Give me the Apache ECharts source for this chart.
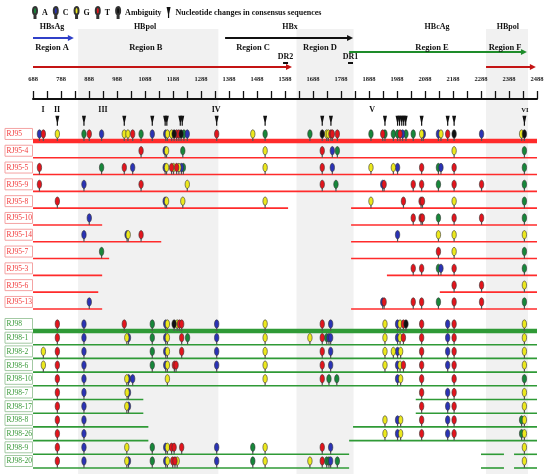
<!DOCTYPE html>
<html>
<head>
<meta charset="utf-8">
<script src="https://cdn.jsdelivr.net/npm/echarts@6/dist/echarts.min.js"></script>
<style>
  html, body { margin: 0; padding: 0; background: #fff; }
  #chart { width: 550px; height: 474px; }
</style>
</head>
<body>
<div id="chart"></div>
<script>
// genome positions (nt)
const axisStart = 688;
const axisEnd = 2488;

const genes = ['HBsAg', 'HBpol', 'HBx', 'HBcAg', 'HBpol'];
const geneLabelAt = [756, 1088, 1606, 2131, 2384];
const geneSpans = [[688, 834], [688, 1613], [1374, 1831], [1817, 2452], [2306, 2484]];

const regions = ['Region A', 'Region B', 'Region C', 'Region D', 'Region E', 'Region F'];
const regionLabelAt = [756, 1091, 1474, 1713, 2113, 2374];
const shadedSpans = [[849, 1350], [1629, 1833], [2306, 2456]];

const repeats = ['DR2', 'DR1'];
const repeatAt = [1590, 1822];

const numerals = ['I', 'II', 'III', 'IV', 'V', 'VI'];
const numeralAt = [724, 774, 938, 1342, 1899, 2445];
const consensusChanges = [775, 870, 1014, 1114, 1160, 1166, 1214, 1221, 1344, 1517,
  1721, 1752, 1945, 1990, 1997, 2005, 2012, 2019, 2076, 2169, 2192, 2443];

const rj95Rows = ['RJ95', 'RJ95-4', 'RJ95-5', 'RJ95-9', 'RJ95-8', 'RJ95-10', 'RJ95-14', 'RJ95-7', 'RJ95-3', 'RJ95-6', 'RJ95-13'];
const rj95Coverage = [
  [[688, 2488]], [[688, 2488]], [[688, 2488]], [[688, 2488]],
  [[688, 1599], [1824, 2488]],
  [[688, 935], [1824, 2488]],
  [[688, 1146], [1824, 2488]],
  [[688, 960], [1824, 2488]],
  [[688, 935], [1952, 2488]],
  [[688, 921], [2141, 2488]],
  [[688, 935], [1824, 2488]]
];
// position + base (A, C, G, T, N = ambiguity)
const rj95Changes = [
  '711C 725T 775G 870A 889T 933C 1014G 1027G 1044T 1074A 1114C 1162C 1168G 1183G 1192N 1201T 1209T 1217N 1227A 1239C 1344T 1473G 1517A 1677A 1721N 1737G 1743G 1752T 1757T 1775T 1895A 1937T 1945A 1975A 1990A 1999T 2008C 2020A 2046A 2076G 2082C 2136C 2145G 2169T 2192N 2290C 2433G 2443N',
  '1074T 1160C 1165G 1223A 1517G 1721T 1757C 1775A 2192G 2443A',
  '711T 933A 1014T 1044C 1160C 1165G 1183T 1190G 1201T 1209G 1218C 1225A 1517G 1721T 1757C 1895G 1975G 1990C 2076T 2136A 2145C 2192T 2443A',
  '711T 870C 1074T 1239G 1721T 1770A 1937C 1942T 2046T 2076T 2136A 2192T 2290T 2443A',
  '775T 1160C 1165G 1223G 1517G 1895G 2011T 2074T 2079T 2192G 2443A',
  '889C 2046T 2074T 2079T 2136A 2192T 2290T 2443A',
  '870C 1024C 1028G 1074T 1990C 2136G 2192G 2443G',
  '933A 2136T 2192G 2443A',
  '2046T 2076T 2136A 2145C 2192T 2443A',
  '2192T 2290T 2443G',
  '889C 1937C 1942T 2046T 2076T 2136A 2192T 2290T 2443A'
];

const rj98Rows = ['RJ98', 'RJ98-1', 'RJ98-2', 'RJ98-6', 'RJ98-10', 'RJ98-7', 'RJ98-17', 'RJ98-8', 'RJ98-26', 'RJ98-9', 'RJ98-20'];
const rj98Coverage = [
  [[688, 2488]], [[688, 2488]], [[688, 2488]], [[688, 2488]], [[688, 2488]],
  [[688, 1082], [2055, 2488]],
  [[688, 1082], [2055, 2488]],
  [[688, 1100], [1831, 2488]],
  [[688, 1100], [1817, 2488]],
  [[688, 1817], [2288, 2370], [2406, 2488]],
  [[688, 1817], [2288, 2370], [2406, 2488]]
];
const rj98Changes = [
  '775T 870C 1014T 1114A 1162C 1168G 1192N 1203G 1211T 1219T 1344C 1517G 1721T 1751C 1945G 1990C 1999G 2011T 2020N 2076T 2169C 2192T 2443G',
  '775T 870C 1023G 1029C 1114A 1162C 1168G 1219T 1240A 1344C 1517G 1677G 1721T 1737A 1745C 1751C 1945G 1990C 1999G 2011T 2076T 2169C 2192T 2443G',
  '725G 775T 870C 1114A 1162C 1168G 1219T 1344C 1517G 1721T 1751C 1945G 1975G 1990C 2001G 2076T 2169C 2192T 2443G',
  '725G 775T 870C 1114A 1162C 1168G 1193T 1199T 1344C 1517G 1721T 1751C 1945G 1990C 1999G 2011T 2076T 2169C 2192T 2443G',
  '775T 870C 1023G 1029C 1044C 1168G 1517G 1721T 1745A 1773A 1990C 2001G 2076T 2192T 2443A',
  '775T 870C 1024G 1029C 2076T 2169C 2192T 2443G',
  '775T 870C 1023G 1029C 2076T 2169C 2192T 2443G',
  '775T 870C 1945G 1990C 2001G 2076T 2169C 2192T 2433A 2443G',
  '775T 870C 1945G 1990C 2001G 2076T 2169C 2192T 2433A 2443G',
  '775T 870C 1023G 1114A 1162C 1168G 1183T 1192T 1219T 1344C 1473A 1517G 1721T 1751C 2443G',
  '775T 870C 1023G 1029C 1114A 1162C 1168G 1187T 1195T 1203G 1344C 1473A 1517G 1677G 1721T 1737A 1745A 1751C 1775A 2443G'
];

const bases = ['A', 'C', 'G', 'T', 'N'];
const baseName = { A: 'A', C: 'C', G: 'G', T: 'T', N: 'Ambiguity' };
const baseColor = { A: '#17873a', C: '#2b33b5', G: '#ece81e', T: '#e3151d', N: '#111111' };
const consensusName = 'Nucleotide changes in consensus sequences';

const SERIF = '"Liberation Serif", "DejaVu Serif", serif';
// header tracks (header grid y units)
const TRACK = { gene: 7, bandTop: 9, topArrow: 18, region: 28, midArrow: 32, repeat: 37, repeatBar: 43, lowArrow: 47 };
const geneArrowStyle = [
  { track: TRACK.topArrow, color: '#3040c8' },
  { track: TRACK.lowArrow, color: '#c41414' },
  { track: TRACK.topArrow, color: '#111111' },
  { track: TRACK.midArrow, color: '#1e8c2a' },
  { track: TRACK.lowArrow, color: '#c41414' }
];

function parseRow(s) {
  return s.trim().split(/\s+/).filter(Boolean).map(t => [+t.slice(0, -1), t.slice(-1)]);
}

const pinIcon = 'path://M2,0 C3.2,0 4,1.6 4,3.8 C4,6 3.2,7.6 2,7.6 C0.8,7.6 0,6 0,3.8 C0,1.6 0.8,0 2,0 Z M1.5,7.6 L2.5,7.6 L2.5,11 L1.5,11 Z';
const wedgeIcon = 'path://M0,0 L4,0 L2.6,7 L2.6,11 L1.4,11 L1.4,7 Z';

function textEl(x, y, text, font, fill, align) {
  return { type: 'text', x: x, y: y, style: { text: text, font: font, fill: fill || '#111', align: align || 'center', verticalAlign: 'middle' } };
}

function bandSeries(g) {
  return {
    type: 'custom', xAxisIndex: g, yAxisIndex: g, silent: true, z: 0,
    data: shadedSpans,
    renderItem: (params, api) => {
      const cs = params.coordSys;
      const x0 = api.coord([api.value(0), 0])[0];
      const x1 = api.coord([api.value(1), 0])[0];
      const top = g === 0 ? api.coord([axisStart, TRACK.bandTop])[1] : cs.y;
      return { type: 'rect', shape: { x: x0, y: top, width: x1 - x0, height: cs.y + cs.height - top }, style: { fill: '#f1f1f1' } };
    }
  };
}

function coverageSeries(g, coverage, color) {
  const data = [];
  coverage.forEach((segs, r) => segs.forEach(s => data.push([s[0], r, s[1]])));
  return {
    type: 'custom', xAxisIndex: g, yAxisIndex: g, silent: true, z: 2, data: data,
    renderItem: (params, api) => {
      const a = api.coord([api.value(0), api.value(1)]);
      const b = api.coord([api.value(2), api.value(1)]);
      const lw = api.value(1) === 0 ? 4.5 : 1.6;
      return { type: 'rect', shape: { x: a[0], y: a[1] + 7 - lw / 2, width: b[0] - a[0], height: lw }, style: { fill: color } };
    }
  };
}

function markerSeries(g, changes, base) {
  const data = [];
  changes.forEach((s, r) => parseRow(s).forEach(([pos, b]) => { if (b === base) data.push([pos, r]); }));
  return {
    type: 'custom', name: baseName[base], xAxisIndex: g, yAxisIndex: g, z: 3, silent: true, data: data,
    itemStyle: { color: baseColor[base], borderColor: '#333', borderWidth: 0.5 },
    renderItem: (params, api) => {
      const c = api.coord([api.value(0), api.value(1)]);
      return {
        type: 'group', children: [
          { type: 'line', shape: { x1: c[0], y1: c[1] + 3, x2: c[0], y2: c[1] + 7 }, style: { stroke: '#555', lineWidth: 1.2 } },
          { type: 'ellipse', shape: { cx: c[0], cy: c[1], rx: 2.2, ry: 4.2 }, style: { fill: baseColor[base], stroke: '#333', lineWidth: 0.6 } }
        ]
      };
    }
  };
}

function rowLabelSeries(g, rows, textColor, boxColor) {
  return {
    type: 'custom', xAxisIndex: g, yAxisIndex: g, silent: true, z: 4,
    data: rows.map((n, i) => [axisStart, i]),
    renderItem: (params, api) => {
      const c = api.coord([api.value(0), api.value(1)]);
      return {
        type: 'group', children: [
          { type: 'rect', shape: { x: c[0] - 28, y: c[1] - 5.5, width: 27.5, height: 11 }, style: { fill: '#fff', stroke: boxColor, lineWidth: 1 } },
          textEl(c[0] - 26.5, c[1] + 0.5, rows[params.dataIndex], '7.5px ' + SERIF, textColor, 'left')
        ]
      };
    }
  };
}

const series = [bandSeries(0), bandSeries(1), bandSeries(2)];

// header: gene names, gene arrows, regions, direct repeats
series.push({
  type: 'custom', xAxisIndex: 0, yAxisIndex: 0, silent: true, z: 3,
  data: genes.map((n, i) => [geneLabelAt[i], TRACK.gene]),
  renderItem: (params, api) => {
    const c = api.coord([api.value(0), api.value(1)]);
    return textEl(c[0], c[1], genes[params.dataIndex], 'bold 8px ' + SERIF);
  }
});
series.push({
  type: 'custom', xAxisIndex: 0, yAxisIndex: 0, silent: true, z: 3,
  data: geneSpans,
  renderItem: (params, api) => {
    const st = geneArrowStyle[params.dataIndex];
    const a = api.coord([api.value(0), st.track]);
    const b = api.coord([api.value(1), st.track]);
    return {
      type: 'group', children: [
        { type: 'line', shape: { x1: a[0], y1: a[1], x2: b[0] - 5, y2: b[1] }, style: { stroke: st.color, lineWidth: 2 } },
        { type: 'polygon', shape: { points: [[b[0], b[1]], [b[0] - 6, b[1] - 3], [b[0] - 6, b[1] + 3]] }, style: { fill: st.color } }
      ]
    };
  }
});
series.push({
  type: 'custom', xAxisIndex: 0, yAxisIndex: 0, silent: true, z: 3,
  data: regions.map((n, i) => [regionLabelAt[i], TRACK.region]),
  renderItem: (params, api) => {
    const c = api.coord([api.value(0), api.value(1)]);
    return textEl(c[0], c[1], regions[params.dataIndex], 'bold 8.5px ' + SERIF);
  }
});
series.push({
  type: 'custom', xAxisIndex: 0, yAxisIndex: 0, silent: true, z: 3,
  data: repeats.map((n, i) => [repeatAt[i], TRACK.repeat]),
  renderItem: (params, api) => {
    const c = api.coord([api.value(0), api.value(1)]);
    const bar = api.coord([api.value(0), TRACK.repeatBar]);
    return {
      type: 'group', children: [
        textEl(c[0], c[1], repeats[params.dataIndex], 'bold 8px ' + SERIF),
        { type: 'rect', shape: { x: bar[0] - 2.5, y: bar[1] - 1, width: 5, height: 2 }, style: { fill: '#111' } }
      ]
    };
  }
});

// consensus change wedges and roman numerals above first group
series.push({
  type: 'custom', name: consensusName, xAxisIndex: 1, yAxisIndex: 1, silent: true, z: 3,
  itemStyle: { color: '#111' },
  data: consensusChanges.map(p => [p, -1]),
  renderItem: (params, api) => {
    const c = api.coord([api.value(0), api.value(1)]);
    const x = c[0], y = c[1];
    return {
      type: 'polygon',
      shape: { points: [[x - 2, y - 1.5], [x + 2, y - 1.5], [x + 0.6, y + 5], [x + 0.6, y + 8.5], [x - 0.6, y + 8.5], [x - 0.6, y + 5]] },
      style: { fill: '#111' }
    };
  }
});
series.push({
  type: 'custom', xAxisIndex: 1, yAxisIndex: 1, silent: true, z: 3,
  data: numerals.map((n, i) => [numeralAt[i], -1]),
  renderItem: (params, api) => {
    const c = api.coord([api.value(0), api.value(1)]);
    const n = numerals[params.dataIndex];
    return textEl(c[0], c[1] - 7, n, 'bold ' + (n === 'VI' ? 6.5 : 8) + 'px ' + SERIF);
  }
});

// sequence groups
series.push(coverageSeries(1, rj95Coverage, '#ff2b2b'));
series.push(coverageSeries(2, rj98Coverage, '#2f9a36'));
bases.forEach(b => { series.push(markerSeries(1, rj95Changes, b)); });
bases.forEach(b => { series.push(markerSeries(2, rj98Changes, b)); });
series.push(rowLabelSeries(1, rj95Rows, '#f23b3b', '#f4a3a3'));
series.push(rowLabelSeries(2, rj98Rows, '#3a9a3a', '#a3c9a3'));

const grids = [
  { left: 33, right: 13, top: 20, height: 79, outerBoundsMode: 'none' },
  { left: 33, right: 13, top: 99, height: 217, outerBoundsMode: 'none' },
  { left: 33, right: 13, top: 316, height: 158, outerBoundsMode: 'none' }
];
const yRanges = [[0, 79], [-2.08, 10.837], [-0.584, 10.949]];

const option = {
  animation: false,
  backgroundColor: '#fff',
  legend: {
    left: 32, top: 6, padding: 0, itemWidth: 4, itemHeight: 11, itemGap: 5,
    selectedMode: false,
    textStyle: { fontFamily: SERIF, fontWeight: 'bold', fontSize: 8, color: '#111' },
    data: [
      { name: 'A', icon: pinIcon },
      { name: 'C', icon: pinIcon },
      { name: 'G', icon: pinIcon },
      { name: 'T', icon: pinIcon },
      { name: 'Ambiguity', icon: pinIcon },
      { name: consensusName, icon: wedgeIcon }
    ]
  },
  grid: grids,
  xAxis: grids.map((g, i) => ({
    type: 'value', gridIndex: i, min: axisStart, max: axisEnd,
    show: i === 0,
    position: 'bottom',
    interval: 100,
    splitLine: { show: false },
    axisLine: { show: true, onZero: false, lineStyle: { color: '#111', width: 2 } },
    axisTick: { show: true, inside: true, length: 8, lineStyle: { color: '#111', width: 1.3 } },
    minorTick: { show: true, splitNumber: 2, length: 8, lineStyle: { color: '#111', width: 1.3 } },
    axisLabel: {
      inside: true, margin: 16, fontFamily: SERIF, fontSize: 6.5, fontWeight: 'bold', color: '#222',
      formatter: v => String(v)
    }
  })),
  yAxis: grids.map((g, i) => ({
    type: 'value', gridIndex: i, inverse: true, show: false,
    min: yRanges[i][0], max: yRanges[i][1],
    splitLine: { show: false }
  })),
  series: series
};

const chart = echarts.init(document.getElementById('chart'), null, { renderer: 'canvas' });
chart.setOption(option);
</script>
</body>
</html>
